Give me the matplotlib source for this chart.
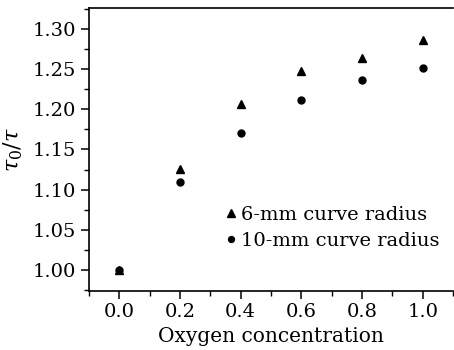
import matplotlib
matplotlib.use("Agg")
import matplotlib.pyplot as plt
from matplotlib.ticker import MultipleLocator

oxygen = [0.0, 0.2, 0.4, 0.6, 0.8, 1.0]
r6mm = [1.000, 1.126, 1.207, 1.248, 1.264, 1.286]
r10mm = [1.000, 1.110, 1.170, 1.212, 1.236, 1.252]
labels = ["6-mm curve radius", "10-mm curve radius"]

plt.rcParams['font.family'] = ['DejaVu Serif']
plt.rcParams['mathtext.fontset'] = 'dejavuserif'

fig = plt.figure(figsize=(4.54, 3.5), dpi=100)
ax = fig.add_axes([0.196, 0.169, 0.802, 0.808])

ax.plot(oxygen, r6mm, linestyle='none', marker='^', color='black', markersize=6, label=labels[0])
ax.plot(oxygen, r10mm, linestyle='none', marker='o', color='black', markersize=5, label=labels[1])

ax.set_xlim(-0.1, 1.1)
ax.set_ylim(0.974, 1.326)
ax.xaxis.set_major_locator(MultipleLocator(0.2))
ax.xaxis.set_minor_locator(MultipleLocator(0.1))
ax.yaxis.set_major_locator(MultipleLocator(0.05))
ax.yaxis.set_minor_locator(MultipleLocator(0.025))
ax.xaxis.set_major_formatter(matplotlib.ticker.FormatStrFormatter('%.1f'))
ax.yaxis.set_major_formatter(matplotlib.ticker.FormatStrFormatter('%.2f'))

ax.tick_params(which='major', direction='out', length=6, width=1.1, labelsize=14, pad=3)
ax.tick_params(which='minor', direction='out', length=3.5, width=1.0)
ax.spines['right'].set_visible(False)
for s in ['left', 'bottom', 'top']:
    ax.spines[s].set_linewidth(1.2)

ax.set_xlabel('Oxygen concentration', fontsize=14.5, labelpad=4)
ax.set_ylabel(r'$\tau_0/\tau$', fontsize=16, labelpad=6)

ax.legend(loc='upper left', bbox_to_anchor=(0.336, 0.348), frameon=False, fontsize=14,
          handlelength=0.6, handletextpad=0.25, labelspacing=0.4, borderpad=0.2,
          markerscale=0.85)

fig.savefig('out.png', dpi=100)
